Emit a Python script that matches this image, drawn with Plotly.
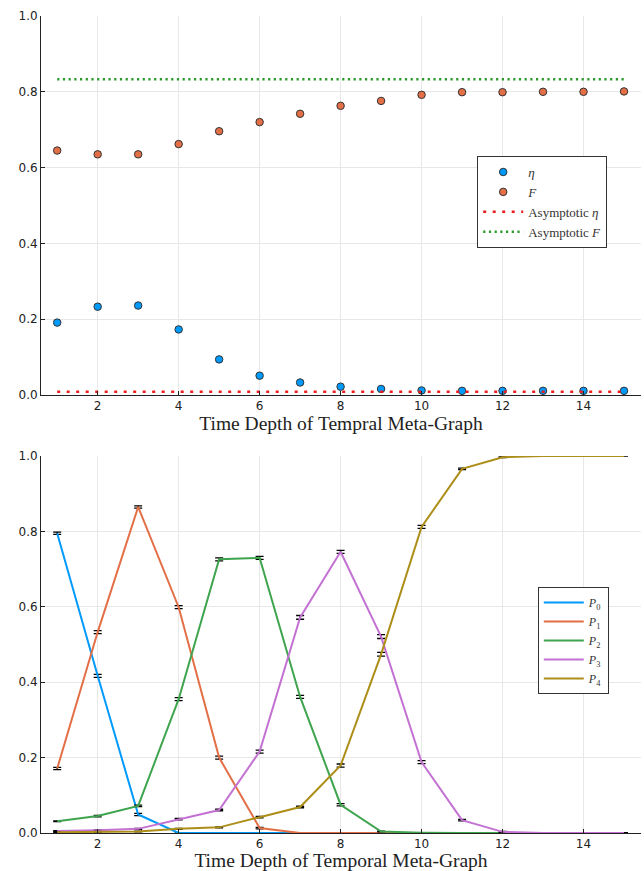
import plotly.graph_objects as go

depth = list(range(1, 16))

eta = [0.191, 0.233, 0.236, 0.173, 0.094, 0.051, 0.033, 0.022, 0.016, 0.012, 0.011, 0.011, 0.011, 0.011, 0.011]
fid = [0.645, 0.635, 0.635, 0.662, 0.696, 0.720, 0.742, 0.763, 0.776, 0.792, 0.799, 0.799, 0.800, 0.800, 0.801]
asym_eta = 0.0085
asym_F = 0.833

P0 = [0.795, 0.417, 0.049, 0.0, 0.0, 0.0, 0.0, 0.0, 0.0, 0.0, 0.0, 0.0, 0.0, 0.0, 0.0]
P1 = [0.171, 0.533, 0.865, 0.599, 0.200, 0.013, 0.0, 0.0, 0.0, 0.0, 0.0, 0.0, 0.0, 0.0, 0.0]
P2 = [0.031, 0.045, 0.072, 0.355, 0.726, 0.730, 0.361, 0.075, 0.004, 0.001, 0.0, 0.0, 0.0, 0.0, 0.0]
P3 = [0.005, 0.007, 0.011, 0.037, 0.061, 0.216, 0.572, 0.746, 0.521, 0.188, 0.034, 0.003, 0.0, 0.0, 0.0]
P4 = [0.002, 0.003, 0.004, 0.011, 0.015, 0.042, 0.069, 0.179, 0.474, 0.812, 0.966, 0.997, 1.0, 1.0, 1.0]

E0 = [0.003, 0.004, 0.003, 0.0, 0.0, 0.0, 0.0, 0.0, 0.0, 0.0, 0.0, 0.0, 0.0, 0.0, 0.0]
E1 = [0.003, 0.004, 0.003, 0.004, 0.004, 0.002, 0.0, 0.0, 0.0, 0.0, 0.0, 0.0, 0.0, 0.0, 0.0]
E2 = [0.001, 0.002, 0.002, 0.004, 0.004, 0.004, 0.004, 0.003, 0.001, 0.0, 0.0, 0.0, 0.0, 0.0, 0.0]
E3 = [0.001, 0.001, 0.001, 0.002, 0.002, 0.004, 0.005, 0.004, 0.005, 0.004, 0.002, 0.001, 0.0, 0.0, 0.0]
E4 = [0.0, 0.001, 0.001, 0.001, 0.001, 0.002, 0.002, 0.004, 0.005, 0.004, 0.002, 0.001, 0.0, 0.0, 0.0]

names_P = ["<i>P</i><sub>0</sub>", "<i>P</i><sub>1</sub>", "<i>P</i><sub>2</sub>",
           "<i>P</i><sub>3</sub>", "<i>P</i><sub>4</sub>"]
colors = ["#009AFA", "#E36F47", "#3EA44E", "#C371D2", "#AC8E18"]

xlabel_top = "Time Depth of Tempral Meta-Graph"
xlabel_bot = "Time Depth of Temporal Meta-Graph"
yticks = [0.0, 0.2, 0.4, 0.6, 0.8, 1.0]
xticks = [2, 4, 6, 8, 10, 12, 14]

fig = go.Figure()

mk = dict(size=7.5, line=dict(color="#333333", width=1))
fig.add_trace(go.Scatter(x=depth, y=eta, mode="markers", name="<i>η</i>",
                         marker=dict(color=colors[0], **mk), legend="legend", xaxis="x", yaxis="y"))
fig.add_trace(go.Scatter(x=depth, y=fid, mode="markers", name="<i>F</i>",
                         marker=dict(color=colors[1], **mk), legend="legend", xaxis="x", yaxis="y"))
fig.add_trace(go.Scatter(x=[depth[0], depth[-1]], y=[asym_eta, asym_eta], mode="lines",
                         name="Asymptotic <i>η</i>", line=dict(color="#ee1c1c", dash="3px,6.5px", width=2.5),
                         legend="legend", xaxis="x", yaxis="y"))
fig.add_trace(go.Scatter(x=[depth[0], depth[-1]], y=[asym_F, asym_F], mode="lines",
                         name="Asymptotic <i>F</i>", line=dict(color="#2a9a2a", dash="2.2px,3.5px", width=2.5),
                         legend="legend", xaxis="x", yaxis="y"))

for P, E, nm, c in zip([P0, P1, P2, P3, P4], [E0, E1, E2, E3, E4], names_P, colors):
    fig.add_trace(go.Scatter(x=depth, y=P, mode="lines", name=nm,
                             line=dict(color=c, width=2),
                             error_y=dict(type="data", array=E, visible=True, color="black",
                                          thickness=1.3, width=4),
                             legend="legend2", xaxis="x2", yaxis="y2"))

axis_common = dict(showline=True, linecolor="#222222", linewidth=1,
                   showgrid=True, gridcolor="#e8e8e8", gridwidth=1,
                   ticks="inside", ticklen=4, tickcolor="#222222", zeroline=False,
                   tickfont=dict(family="DejaVu Sans", size=12, color="#222222"))
title_font = dict(family="Liberation Serif", size=19.5, color="#222222")

fig.update_layout(
    width=644, height=871,
    margin=dict(l=41, r=3, t=16, b=38),
    paper_bgcolor="white", plot_bgcolor="white",
    showlegend=True,
    xaxis=dict(domain=[0, 1], range=[0.6, 15.42], tickvals=xticks, anchor="y",
               title=dict(text=xlabel_top, font=title_font, standoff=2), **axis_common),
    yaxis=dict(domain=[0.5361, 1], range=[0, 1], tickvals=yticks, tickformat=".1f", anchor="x",
               **axis_common),
    xaxis2=dict(domain=[0, 1], range=[0.6, 15.42], tickvals=xticks, anchor="y2",
                title=dict(text=xlabel_bot, font=title_font, standoff=2), **axis_common),
    yaxis2=dict(domain=[0, 0.4614], range=[0, 1], tickvals=yticks, tickformat=".1f", anchor="x2",
                **axis_common),
    legend=dict(x=0.727, y=0.8286, xanchor="left", yanchor="top",
                bgcolor="white", bordercolor="#333333", borderwidth=1,
                font=dict(family="Liberation Serif", size=13, color="#333333"),
                tracegroupgap=0, itemwidth=40),
    legend2=dict(x=0.828, y=0.3011, xanchor="left", yanchor="top",
                 bgcolor="white", bordercolor="#333333", borderwidth=1,
                 font=dict(family="Liberation Serif", size=12, color="#333333"),
                 tracegroupgap=0, itemwidth=40),
)

fig.write_html("out.html")
